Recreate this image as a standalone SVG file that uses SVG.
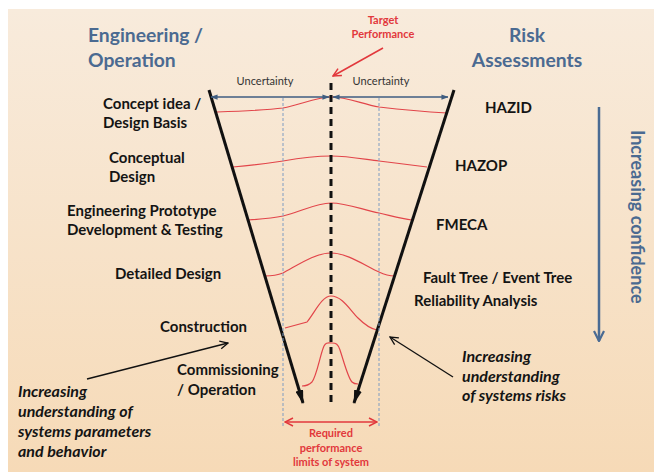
<svg xmlns="http://www.w3.org/2000/svg" width="654" height="472" viewBox="0 0 654 472">
  <defs>
    <linearGradient id="bg" x1="0" y1="0" x2="0" y2="1">
      <stop offset="0" stop-color="#f8ebdc"/>
      <stop offset="1" stop-color="#f6dab7"/>
    </linearGradient>
    <!-- heavy filled head for the funnel sides -->
    <marker id="headBlack" viewBox="0 0 14 8" refX="13" refY="4" markerWidth="14" markerHeight="8" markerUnits="userSpaceOnUse" orient="auto">
      <path d="M0,0 L14,4 L0,8 z" fill="#111"/>
    </marker>
    <!-- small filled head for the uncertainty span -->
    <marker id="headBlue" viewBox="0 0 8 6" refX="7.5" refY="3" markerWidth="7" markerHeight="6" markerUnits="userSpaceOnUse" orient="auto-start-reverse">
      <path d="M0,0 L8,3 L0,6 z" fill="#3f5d80"/>
    </marker>
    <!-- open chevron heads -->
    <marker id="openBlack" viewBox="0 0 10 10" refX="9" refY="5" markerWidth="10" markerHeight="10" markerUnits="userSpaceOnUse" orient="auto">
      <path d="M1,1 L9,5 L1,9" fill="none" stroke="#111" stroke-width="1.3"/>
    </marker>
    <marker id="openRed" viewBox="0 0 10 10" refX="9" refY="5" markerWidth="10" markerHeight="10" markerUnits="userSpaceOnUse" orient="auto-start-reverse">
      <path d="M1,1 L9,5 L1,9" fill="none" stroke="#e2383c" stroke-width="1.5"/>
    </marker>
    <marker id="openBlue" viewBox="0 0 12 12" refX="11" refY="6" markerWidth="12" markerHeight="12" markerUnits="userSpaceOnUse" orient="auto">
      <path d="M1,1 L11,6 L1,11" fill="none" stroke="#4a6b93" stroke-width="2.2"/>
    </marker>
  </defs>
  <style>
    text { font-family: Lato, "Liberation Sans", sans-serif; }
    .title { font-size: 19.3px; font-weight: 700; fill: #4b6a91; }
    .stage { font-size: 15px; font-weight: 700; fill: #141414; }
    .note { font-size: 16px; font-weight: 700; font-style: italic; fill: #141414; }
    .red { font-size: 11px; font-weight: 700; fill: #e2383c; }
    .small { font-size: 11px; fill: #333; }
    .curve { fill: none; stroke: #e2454a; stroke-width: 1.2; }
    .guide { stroke: #7f9cc2; stroke-width: 1; stroke-dasharray: 3 2; }
  </style>

  <!-- page -->
  <rect x="0" y="0" width="654" height="472" fill="#ffffff"/>
  <rect x="8" y="9" width="646" height="463" fill="url(#bg)"/>

  <!-- column headings -->
  <g id="heading-engineering">
    <text class="title" x="88" y="42">Engineering /</text>
    <text class="title" x="88" y="67">Operation</text>
  </g>
  <g id="heading-risk">
    <text class="title" x="527" y="42" text-anchor="middle">Risk</text>
    <text class="title" x="527" y="67" text-anchor="middle">Assessments</text>
  </g>
  <g id="target">
    <text class="red" x="383" y="24" text-anchor="middle">Target</text>
    <text class="red" x="383" y="38" text-anchor="middle">Performance</text>
  </g>
  <g id="uncertainty-left">
    <text class="small" x="265" y="85" text-anchor="middle">Uncertainty</text>
  </g>
  <g id="uncertainty-right">
    <text class="small" x="381" y="85" text-anchor="middle">Uncertainty</text>
  </g>

  <!-- engineering stages -->
  <g id="stage-concept">
    <text class="stage" x="103" y="109">Concept idea /</text>
    <text class="stage" x="103" y="128">Design Basis</text>
  </g>
  <g id="stage-conceptual">
    <text class="stage" x="109" y="163">Conceptual</text>
    <text class="stage" x="109" y="182">Design</text>
  </g>
  <g id="stage-prototype">
    <text class="stage" x="67" y="216">Engineering Prototype</text>
    <text class="stage" x="67" y="235">Development &amp; Testing</text>
  </g>
  <g id="stage-detailed">
    <text class="stage" x="115" y="279">Detailed Design</text>
  </g>
  <g id="stage-construction">
    <text class="stage" x="160" y="332">Construction</text>
  </g>
  <g id="stage-commissioning">
    <text class="stage" x="177" y="375">Commissioning</text>
    <text class="stage" x="177" y="395">/ Operation</text>
  </g>

  <!-- risk assessments -->
  <g id="risk-hazid"><text class="stage" x="485" y="113">HAZID</text></g>
  <g id="risk-hazop"><text class="stage" x="455" y="171">HAZOP</text></g>
  <g id="risk-fmeca"><text class="stage" x="436" y="230">FMECA</text></g>
  <g id="risk-tree">
    <text class="stage" x="423" y="283">Fault Tree / Event Tree</text>
    <text class="stage" x="414" y="306">Reliability Analysis</text>
  </g>

  <!-- side notes -->
  <g id="note-parameters">
    <text class="note" x="18" y="397">Increasing</text>
    <text class="note" x="18" y="417">understanding of</text>
    <text class="note" x="18" y="437">systems parameters</text>
    <text class="note" x="18" y="457">and behavior</text>
  </g>
  <g id="note-risks">
    <text class="note" x="462" y="362">Increasing</text>
    <text class="note" x="462" y="382">understanding</text>
    <text class="note" x="462" y="401">of systems risks</text>
  </g>
  <g id="confidence">
    <text x="631" y="130" transform="rotate(90 631 130)" style="font-size:18px;font-weight:700;fill:#4b6a91">Increasing confidence</text>
  </g>
  <g id="limits">
    <text class="red" x="331" y="437" text-anchor="middle">Required</text>
    <text class="red" x="331" y="452" text-anchor="middle">performance</text>
    <text class="red" x="331" y="466" text-anchor="middle">limits of system</text>
  </g>

  <!-- distributions narrowing down the funnel -->
  <g id="distributions">
    <path class="curve" d="M217,112 C245,111 268,110 283,108 C300,105 316,97 331,97 C347,97 362,104 379,107 C405,110 430,112 447,113"/>
    <path class="curve" d="M233,167 C255,165 270,163 283,161 C300,158 316,156 331,156 C347,156 363,159 379,161 C395,163 412,165 427,167"/>
    <path class="curve" d="M248,220 C262,219 273,218 283,216 C300,212 316,203 331,203 C347,203 363,210 379,213 C392,216 402,219 412,220"/>
    <path class="curve" d="M265,276 C272,276 278,275 283,273 C298,265 315,253 331,253 C347,253 364,265 379,272 C385,275 390,276 395,276"/>
    <path class="curve" d="M285,328 L307,322 C315,312 322,296 331,296 C342,296 350,310 358,318 C365,325 372,329 377,330"/>
    <path class="curve" d="M302,386 C306,386 309,385 312,382 C317,375 320,355 324,346 C326,342 328,343 332,343 C336,343 338,344 340,350 C344,362 348,378 352,382 C354,384 356,384 358,384"/>
  </g>

  <!-- connectors -->
  <g id="connectors">
    <!-- funnel sides -->
    <line x1="209" y1="90" x2="303" y2="403" stroke="#111" stroke-width="3" marker-end="url(#headBlack)"/>
    <line x1="454" y1="90" x2="354" y2="403" stroke="#111" stroke-width="3" marker-end="url(#headBlack)"/>
    <!-- required limits guides -->
    <line class="guide" x1="283" y1="98" x2="283" y2="426"/>
    <line class="guide" x1="379" y1="98" x2="379" y2="426"/>
    <!-- target axis -->
    <line x1="331" y1="83" x2="331" y2="406" stroke="#111" stroke-width="3" stroke-dasharray="7 5"/>
    <!-- uncertainty spans -->
    <line x1="211" y1="97" x2="329" y2="97" stroke="#3f5d80" stroke-width="1.5" marker-start="url(#headBlue)" marker-end="url(#headBlue)"/>
    <line x1="333" y1="97" x2="448" y2="97" stroke="#3f5d80" stroke-width="1.5" marker-start="url(#headBlue)" marker-end="url(#headBlue)"/>
    <!-- target pointer -->
    <line x1="383" y1="48" x2="333" y2="76" stroke="#e2383c" stroke-width="1.5" marker-end="url(#openRed)"/>
    <!-- required limits span -->
    <line x1="285" y1="422" x2="377" y2="422" stroke="#e2383c" stroke-width="1.5" marker-start="url(#openRed)" marker-end="url(#openRed)"/>
    <!-- note pointers -->
    <line x1="87" y1="379" x2="228" y2="343" stroke="#111" stroke-width="1.3" marker-end="url(#openBlack)"/>
    <line x1="453" y1="377" x2="390" y2="337" stroke="#111" stroke-width="1.3" marker-end="url(#openBlack)"/>
    <!-- confidence arrow -->
    <line x1="599" y1="107" x2="599" y2="341" stroke="#4a6b93" stroke-width="2.5" marker-end="url(#openBlue)"/>
  </g>
</svg>
